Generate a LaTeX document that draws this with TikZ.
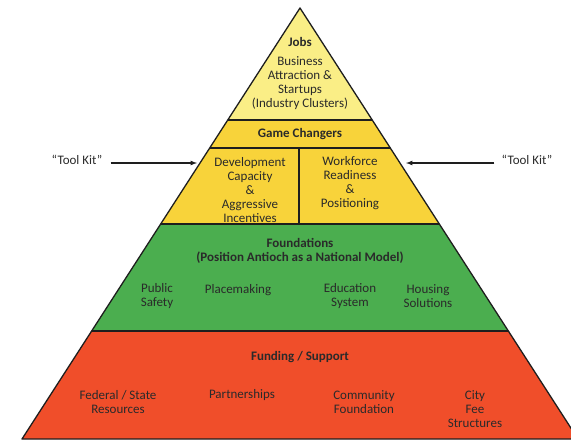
\documentclass[tikz,border=0pt]{standalone}
\usepackage{fontspec}
\setmainfont{Carlito}
\usetikzlibrary{calc}
\usetikzlibrary{arrows}
\definecolor{jobsyellow}{HTML}{FAEE86}
\definecolor{gameyellow}{HTML}{F8D33A}
\definecolor{foundgreen}{HTML}{4BAE4F}
\definecolor{fundred}{HTML}{F04E2A}
\definecolor{inkgray}{HTML}{2A2A2A}
\definecolor{edgegray}{HTML}{1E1E1E}

\tikzset{
  lbl/.style={font=\fontsize{13}{14}\selectfont, align=center, text=inkgray, inner sep=0pt},
  head/.style={lbl, font=\fontsize{13}{14}\selectfont\bfseries},
  layerline/.style={draw=edgegray, line width=1.3pt},
}

\begin{document}
\begin{tikzpicture}[x=1pt,y=-1pt]
  \useasboundingbox (0,0) rectangle (571,440);

  \coordinate (apex) at (300,8);
  \coordinate (bl) at (22,439);
  \coordinate (br) at (578,439);

  \begin{scope}
    \clip (apex) -- (bl) -- (br) -- cycle;
    \fill[jobsyellow] (0,0) rectangle (580,120);
    \fill[gameyellow] (0,120) rectangle (580,224);
    \fill[foundgreen] (0,224) rectangle (580,331);
    \fill[fundred] (0,331) rectangle (580,440);
    \foreach \y in {120,148,224} {
      \draw[layerline] (0,\y) -- (580,\y);
    }
    \draw[layerline, line width=2pt] (0,331) -- (580,331);
    \draw[layerline] (299,148) -- (299,224);
  \end{scope}
  \draw[layerline, line join=round] (apex) -- (bl) -- (br) -- cycle;

  \node[head] (jobs) at (300,42) {Jobs};
  \node[lbl] (biz) at (300,83) {Business\\Attraction \&\\Startups\\(Industry Clusters)};
  \node[head] (game) at (300,134) {Game Changers};
  \node[lbl] (dev) at (250,190.5) {Development\\Capacity\\\&\\Aggressive\\Incentives};
  \node[lbl] (work) at (350,183.5) {Workforce\\Readiness\\\&\\Positioning};

  \node[head] (found) at (300,251) {Foundations\\(Position Antioch as a National Model)};
  \node[lbl] (safety) at (157,296.5) {Public\\Safety};
  \node[lbl] (place) at (238,290) {Placemaking};
  \node[lbl] (edu) at (350,296.5) {Education\\System};
  \node[lbl] (house) at (428,296.5) {Housing\\Solutions};

  \node[head] (fund) at (300,357) {Funding / Support};
  \node[lbl] (fed) at (118,402) {Federal / State\\Resources};
  \node[lbl] (partner) at (242,395) {Partnerships};
  \node[lbl] (comm) at (364,402) {Community\\Foundation};
  \node[lbl] (city) at (475,409) {City\\Fee\\Structures};

  \node[lbl] (toolL) at (77,160) {“Tool Kit”};
  \node[lbl] (toolR) at (527,160) {“Tool Kit”};
  \coordinate (tipL) at (197,163);
  \coordinate (tipR) at (406,163);

  \draw[-latex, draw=edgegray, line width=1.2pt] ([xshift=8pt]toolL.east |- tipL) -- (tipL);
  \draw[-latex, draw=edgegray, line width=1.2pt] ([xshift=-7pt]toolR.west |- tipR) -- (tipR);
\end{tikzpicture}
\end{document}
